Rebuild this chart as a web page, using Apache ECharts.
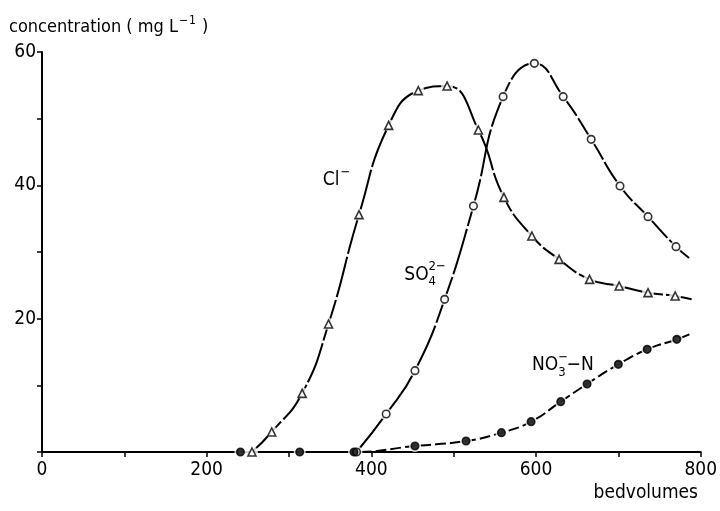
<!DOCTYPE html>
<html><head><meta charset="utf-8">
<script src="https://cdn.jsdelivr.net/npm/echarts@6/dist/echarts.min.js"></script>
<style>html,body{margin:0;padding:0;background:#fff}#c{width:720px;height:511px}</style>
</head><body><div id="c"></div>
<script>
// ---- data ----
const clX  = [255, 279, 316, 348, 385, 421, 457, 492, 530, 561, 595, 628, 665, 701, 736, 769];
const clY  = [0, 3.0, 8.8, 19.2, 35.6, 49.0, 54.2, 54.9, 48.3, 38.2, 32.4, 28.9, 25.9, 24.9, 23.9, 23.4];
const clEnd = [789, 22.9];
const so4X = [382, 418, 453, 489, 524, 560, 598, 633, 667, 702, 736, 770];
const so4Y = [0, 5.7, 12.2, 22.9, 36.9, 53.3, 58.3, 53.3, 46.9, 39.9, 35.3, 30.8];
const so4End = [786, 29.1];
const no3X = [241, 313, 379, 453, 515, 558, 594, 630, 662, 700, 735, 771];
const no3Y = [0, 0, 0, 0.9, 1.65, 2.9, 4.55, 7.55, 10.2, 13.15, 15.4, 16.9];
const no3End = [789, 17.8];
const xTickLabels = [0, 200, 400, 600, 800];
const yTickLabels = [20, 40, 60];
const labelAnchors = { cl: [341, 40.8], so4: [440, 26.6], no3: [595, 13.0] };

const FONT = '"DejaVu Sans Condensed", "DejaVu Sans", sans-serif';
const FS = 19;
const pairs = (xs, ys) => xs.map((x, i) => [x, ys[i]]);

const chart = echarts.init(document.getElementById('c'));
const lineS = (data, dash, z) => ({
  type: 'line', data, smooth: 0.5, showSymbol: false, z,
  lineStyle: { color: '#000', width: 2, type: dash }, silent: true
});
const haloS = (data) => ({
  type: 'scatter', data, symbol: 'circle', symbolSize: 12, z: 5, silent: true,
  itemStyle: { color: '#fff' }
});
const markS = (data, symbol, size, filled) => ({
  type: 'scatter', data, symbol, symbolSize: size, z: 6, silent: true,
  itemStyle: { color: filled ? '#000' : '#fff', borderColor: '#000', borderWidth: 1.6 }
});

chart.setOption({
  animation: false,
  backgroundColor: '#fff',
  grid: { left: 42, right: 18, top: 52, bottom: 59 },
  xAxis: {
    type: 'value', min: 0, max: 800, interval: 100,
    axisLine: { lineStyle: { color: '#000', width: 2 } },
    axisTick: { show: true, length: 5, lineStyle: { color: '#000', width: 1.5 } },
    splitLine: { show: false },
    axisLabel: { color: '#000', fontFamily: FONT, fontSize: FS, margin: 9,
      formatter: v => xTickLabels.includes(v) ? String(v) : '' }
  },
  yAxis: {
    type: 'value', min: 0, max: 60, interval: 10,
    axisLine: { show: true, lineStyle: { color: '#000', width: 2 } },
    axisTick: { show: true, length: 5, lineStyle: { color: '#000', width: 1.5 } },
    splitLine: { show: false },
    axisLabel: { color: '#000', fontFamily: FONT, fontSize: FS, margin: 6,
      formatter: v => yTickLabels.includes(v) ? String(v) : '' }
  },
  series: [
    lineS(pairs(clX, clY).concat([clEnd]), [42, 3], 2),
    lineS(pairs(so4X, so4Y).concat([so4End]), [48, 3], 2),
    lineS(pairs(no3X, no3Y).concat([no3End]), [11, 4], 2),
    haloS(pairs(clX, clY)), haloS(pairs(so4X, so4Y)), haloS(pairs(no3X, no3Y)),
    markS(pairs(clX, clY), 'triangle', 8, false),
    markS(pairs(so4X, so4Y), 'circle', 7.5, false),
    markS(pairs(no3X, no3Y), 'circle', 7.5, true)
  ]
});

// ---- text labels with sub/superscripts ----
const ctx = document.createElement('canvas').getContext('2d');
function tw(s, size) { ctx.font = size + 'px ' + FONT; return ctx.measureText(s).width; }
function txt(x, y, s, size) {
  return { type: 'text', x, y, silent: true, z: 10,
    style: { text: s, fill: '#000', font: size + 'px ' + FONT, textVerticalAlign: 'middle', textAlign: 'left' } };
}
const els = [];
// axis title
(function () {
  const x0 = 9, y0 = 27;
  const a = 'concentration ( mg L';
  els.push(txt(x0, y0, a, 18));
  let x = x0 + tw(a, 18);
  els.push(txt(x + 1, y0 - 6, '\u2212\u200a1', 12));
  x += tw('\u2212\u200a1', 12) + 2;
  els.push(txt(x, y0, ' )', 18));
})();
// Cl-
(function () {
  const p = chart.convertToPixel({ gridIndex: 0 }, labelAnchors.cl);
  els.push(txt(p[0], p[1], 'Cl', FS));
  els.push(txt(p[0] + tw('Cl', FS) + 1, p[1] - 7, '\u2212', 13));
})();
// SO4 2-
(function () {
  const p = chart.convertToPixel({ gridIndex: 0 }, labelAnchors.so4);
  els.push(txt(p[0], p[1], 'SO', FS));
  const x = p[0] + tw('SO', FS);
  els.push(txt(x, p[1] - 8, '2\u2212', 13));
  els.push(txt(x, p[1] + 7, '4', 13));
})();
// NO3- -N
(function () {
  const p = chart.convertToPixel({ gridIndex: 0 }, labelAnchors.no3);
  els.push(txt(p[0], p[1], 'NO', FS));
  let x = p[0] + tw('NO', FS);
  els.push(txt(x, p[1] - 8, '\u2212', 13));
  els.push(txt(x, p[1] + 7, '3', 13));
  x += tw('3', 13) + 1;
  els.push(txt(x, p[1], '\u2212N', FS));
})();
// x axis name
els.push({ type: 'text', right: 22, top: 484, silent: true, z: 10,
  style: { text: 'bedvolumes', fill: '#000', font: '19px ' + FONT } });
chart.setOption({ graphic: els });
</script></body></html>
